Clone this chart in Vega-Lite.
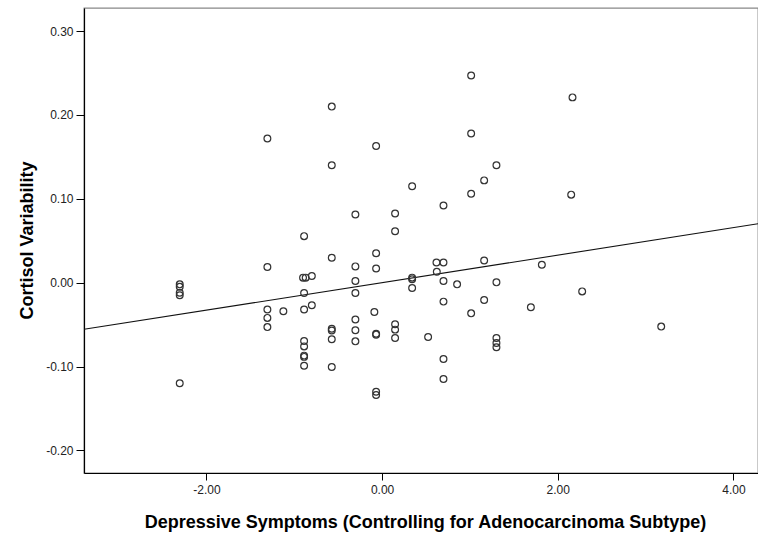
{
  "$schema": "https://vega.github.io/schema/vega-lite/v6.json",
  "width": 674,
  "height": 465,
  "autosize": {"type": "none"},
  "padding": {"left": 84, "top": 8, "right": 0, "bottom": 63},
  "background": "white",
  "config": {
    "view": {"stroke": "#888", "strokeWidth": 1.3},
    "font": "Liberation Sans",
    "axis": {
      "domainColor": "#000",
      "domainWidth": 1.2,
      "tickColor": "#000",
      "tickWidth": 1,
      "grid": false,
      "labelFont": "Liberation Sans",
      "labelFontSize": 12,
      "labelColor": "#222",
      "titleFont": "Liberation Sans",
      "titleFontSize": 18,
      "titleFontWeight": "bold",
      "titleColor": "#000"
    }
  },
  "datasets": {
    "pts": [
      {"x": -2.304, "y": -0.002}, {"x": -2.304, "y": -0.005}, {"x": -2.304, "y": -0.012}, {"x": -2.304, "y": -0.015},
      {"x": -2.304, "y": -0.120},
      {"x": -1.306, "y": 0.172}, {"x": -1.306, "y": 0.0186}, {"x": -1.306, "y": -0.032}, {"x": -1.306, "y": -0.042}, {"x": -1.306, "y": -0.053},
      {"x": -1.124, "y": -0.034},
      {"x": -0.90, "y": 0.006}, {"x": -0.87, "y": 0.006}, {"x": -0.80, "y": 0.0079},
      {"x": -0.888, "y": -0.0124}, {"x": -0.888, "y": -0.032}, {"x": -0.80, "y": -0.027},
      {"x": -0.888, "y": 0.0555},
      {"x": -0.888, "y": -0.0695}, {"x": -0.888, "y": -0.076}, {"x": -0.888, "y": -0.087}, {"x": -0.888, "y": -0.0885}, {"x": -0.888, "y": -0.099},
      {"x": -0.573, "y": 0.210}, {"x": -0.573, "y": 0.140}, {"x": -0.573, "y": 0.0298},
      {"x": -0.573, "y": -0.055}, {"x": -0.573, "y": -0.057}, {"x": -0.573, "y": -0.0675}, {"x": -0.573, "y": -0.1005},
      {"x": -0.304, "y": 0.0813}, {"x": -0.304, "y": 0.0194}, {"x": -0.304, "y": 0.002}, {"x": -0.304, "y": -0.0124},
      {"x": -0.304, "y": -0.044}, {"x": -0.304, "y": -0.0568}, {"x": -0.304, "y": -0.070},
      {"x": -0.068, "y": 0.163}, {"x": -0.068, "y": 0.035}, {"x": -0.068, "y": 0.017}, {"x": -0.088, "y": -0.035},
      {"x": -0.068, "y": -0.061}, {"x": -0.068, "y": -0.062}, {"x": -0.068, "y": -0.130}, {"x": -0.068, "y": -0.134},
      {"x": 0.148, "y": 0.0825}, {"x": 0.148, "y": 0.0614}, {"x": 0.148, "y": -0.0496}, {"x": 0.148, "y": -0.056}, {"x": 0.148, "y": -0.066},
      {"x": 0.342, "y": 0.115}, {"x": 0.342, "y": 0.006}, {"x": 0.342, "y": 0.004}, {"x": 0.342, "y": -0.0064},
      {"x": 0.524, "y": -0.0648},
      {"x": 0.619, "y": 0.024}, {"x": 0.623, "y": 0.013},
      {"x": 0.699, "y": 0.024}, {"x": 0.699, "y": 0.092}, {"x": 0.699, "y": 0.002}, {"x": 0.699, "y": -0.0226}, {"x": 0.699, "y": -0.091}, {"x": 0.699, "y": -0.1148},
      {"x": 0.854, "y": -0.002},
      {"x": 1.014, "y": 0.247}, {"x": 1.014, "y": 0.178}, {"x": 1.014, "y": 0.106}, {"x": 1.014, "y": -0.0366},
      {"x": 1.162, "y": 0.122}, {"x": 1.162, "y": 0.0265}, {"x": 1.162, "y": -0.0207},
      {"x": 1.302, "y": 0.140}, {"x": 1.302, "y": 0.0004}, {"x": 1.302, "y": -0.066}, {"x": 1.302, "y": -0.072}, {"x": 1.302, "y": -0.077},
      {"x": 1.694, "y": -0.0294}, {"x": 1.819, "y": 0.0214},
      {"x": 2.168, "y": 0.221}, {"x": 2.153, "y": 0.105}, {"x": 2.278, "y": -0.0104},
      {"x": 3.178, "y": -0.0524}
    ],
    "fit": [
      {"x": -3.394, "y": -0.0556},
      {"x": 4.28, "y": 0.0702}
    ]
  },
  "encoding": {
    "x": {
      "field": "x", "type": "quantitative",
      "scale": {"domain": [-3.394, 4.28], "nice": false, "zero": false},
      "axis": {
        "title": "Depressive Symptoms (Controlling for Adenocarcinoma Subtype)",
        "values": [-2, 0, 2, 4], "format": ".2f",
        "labelExpr": "replace(datum.label, '\u2212', '-')",
        "tickSize": 7, "labelPadding": 4,
        "titleX": 341, "titleY": 54, "titleBaseline": "alphabetic", "titleAlign": "center"
      }
    },
    "y": {
      "field": "y", "type": "quantitative",
      "scale": {"domain": [-0.227, 0.3276], "nice": false, "zero": false},
      "axis": {
        "title": "Cortisol Variability",
        "values": [-0.2, -0.1, 0, 0.1, 0.2, 0.3], "format": ".2f",
        "labelExpr": "replace(datum.label, '\u2212', '-')",
        "tickSize": 8, "labelPadding": 3,
        "titleX": -52, "titleY": 232, "titleAngle": -90, "titleBaseline": "alphabetic", "titleAlign": "center"
      }
    }
  },
  "layer": [
    {
      "data": {"name": "fit"},
      "mark": {"type": "line", "color": "#111", "strokeWidth": 1.1, "clip": true}
    },
    {
      "data": {"name": "pts"},
      "mark": {"type": "point", "shape": "circle", "filled": false, "size": 46, "stroke": "#333", "strokeWidth": 1.2, "opacity": 1}
    }
  ]
}
